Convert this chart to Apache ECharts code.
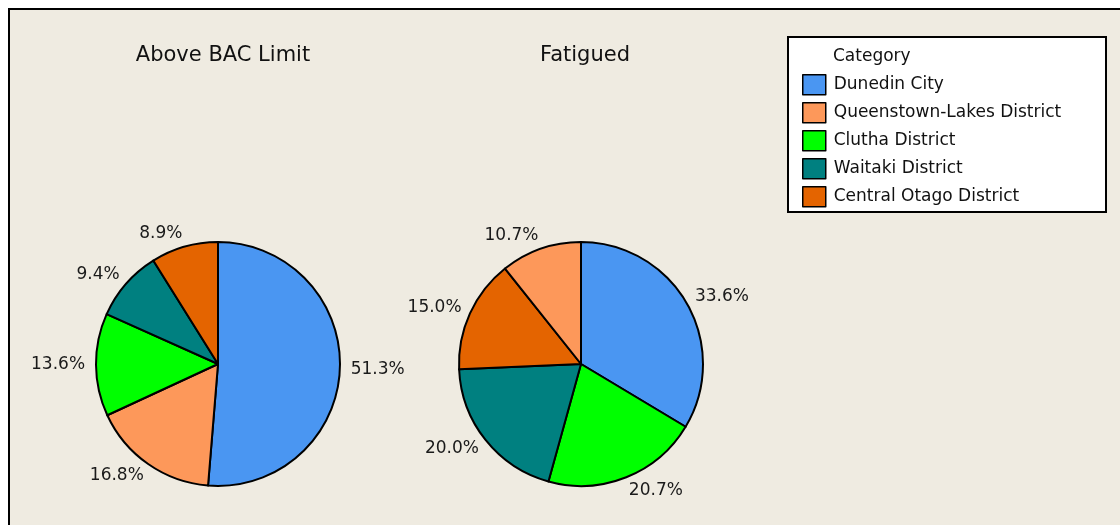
<!DOCTYPE html>
<html>
<head>
<meta charset="utf-8">
<script src="https://cdn.jsdelivr.net/npm/echarts@6/dist/echarts.min.js"></script>
<style>
  html, body { margin: 0; padding: 0; background: #ffffff; }
  #main { width: 1120px; height: 525px; }
</style>
</head>
<body>
<div id="main"></div>
<script>
var categories = ['Dunedin City', 'Queenstown-Lakes District', 'Clutha District', 'Waitaki District', 'Central Otago District'];
var colors = ['#4a96f2', '#fd985a', '#00ff00', '#008080', '#e46400'];
// percentages per pie, in category order
var bacValues = [51.3, 16.8, 13.6, 9.4, 8.9];
var fatiguedValues = [33.6, 10.7, 20.7, 20.0, 15.0];
var pieTitles = ['Above BAC Limit', 'Fatigued'];

var fontFam = 'DejaVu Sans';

function pieData(values) {
    var d = categories.map(function (c, i) {
        return { name: c, value: values[i], itemStyle: { color: colors[i] } };
    });
    // slices clockwise from 12 o'clock, largest first
    d.sort(function (a, b) { return b.value - a.value; });
    return d;
}

// mid angle (radians, clockwise from top) of each sorted slice
function midAngles(data) {
    var total = 0, acc = 0;
    data.forEach(function (d) { total += d.value; });
    return data.map(function (d) {
        var m = (acc + d.value / 2) / total * Math.PI * 2;
        acc += d.value;
        return m;
    });
}

var bacData = pieData(bacValues);
var fatData = pieData(fatiguedValues);
var angles = [midAngles(bacData), midAngles(fatData)];

function pieSeries(data, cx) {
    return {
        type: 'pie',
        center: [cx, 364],
        radius: 122,
        startAngle: 90,
        clockwise: true,
        avoidLabelOverlap: false,
        animation: false,
        data: data,
        itemStyle: { borderColor: '#000', borderWidth: 2 },
        label: {
            show: true,
            position: 'outside',
            formatter: function (p) { return p.value.toFixed(1) + '%'; },
            color: '#1a1a1a',
            fontFamily: fontFam,
            fontSize: 17
        },
        labelLine: { show: false, length: 6, length2: 0 },
        // nudge labels so top ones sit above and bottom ones below their anchor
        labelLayout: function (p) {
            var a = angles[p.seriesIndex][p.dataIndex];
            var s = Math.sin(a), c = Math.cos(a);
            return { dx: -(s >= 0 ? 1 : -1) * 5 * Math.abs(c), dy: -c * 8 };
        },
        emphasis: { disabled: true }
    };
}

var myChart = echarts.init(document.getElementById('main'));
var option = {
    backgroundColor: '#ffffff',
    title: [
        { text: pieTitles[0], left: 218, top: 40, textAlign: 'center',
          textStyle: { fontFamily: fontFam, fontSize: 21, fontWeight: 'normal', color: '#111' } },
        { text: pieTitles[1], left: 580, top: 40, textAlign: 'center',
          textStyle: { fontFamily: fontFam, fontSize: 21, fontWeight: 'normal', color: '#111' } }
    ],
    graphic: [
        { type: 'rect', z: -10, shape: { x: 9, y: 9, width: 1130, height: 530 },
          style: { fill: '#efebe1', stroke: '#000', lineWidth: 2 } },
        { type: 'rect', z: -5, shape: { x: 788, y: 37, width: 318, height: 175 },
          style: { fill: '#ffffff', stroke: '#000', lineWidth: 2 } },
        { type: 'text', z: 10, left: 833, top: 48,
          style: { text: 'Category', fontFamily: fontFam, fontSize: 17, fill: '#111' } }
    ],
    legend: {
        orient: 'vertical',
        left: 797,
        top: 69,
        padding: 5,
        itemWidth: 23,
        itemHeight: 20,
        itemGap: 6.5,
        icon: 'rect',
        selectedMode: false,
        data: categories,
        itemStyle: { borderColor: '#000', borderWidth: 1.5 },
        textStyle: { fontFamily: fontFam, fontSize: 17, lineHeight: 18, color: '#111', padding: [0, 0, 0, 3] }
    },
    series: [
        pieSeries(bacData, 218),
        pieSeries(fatData, 581)
    ]
};
myChart.setOption(option);
</script>
</body>
</html>
